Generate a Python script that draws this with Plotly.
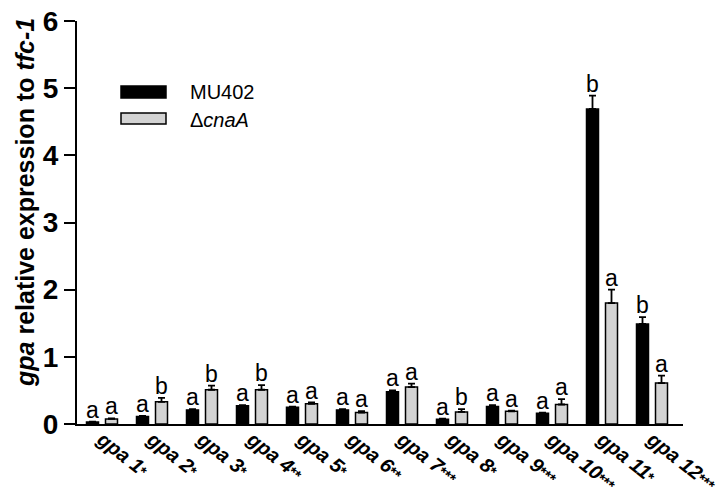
import plotly.graph_objects as go

genes = ["gpa1", "gpa2", "gpa3", "gpa4", "gpa5", "gpa6", "gpa7", "gpa8", "gpa9", "gpa10", "gpa11", "gpa12"]
stars = ["*", "*", "*", "**", "*", "**", "***", "*", "***", "***", "*", "***"]
mu402 = [0.03, 0.11, 0.21, 0.27, 0.25, 0.21, 0.48, 0.07, 0.26, 0.16, 4.69, 1.49]
mu402_err = [0.005, 0.01, 0.01, 0.01, 0.01, 0.01, 0.02, 0.01, 0.02, 0.01, 0.2, 0.1]
cna = [0.075, 0.33, 0.51, 0.51, 0.30, 0.17, 0.55, 0.18, 0.19, 0.29, 1.80, 0.61]
cna_err = [0.01, 0.06, 0.06, 0.07, 0.02, 0.02, 0.05, 0.04, 0.01, 0.08, 0.2, 0.11]
mu402_letters = ["a", "a", "a", "a", "a", "a", "a", "a", "a", "a", "b", "b"]
cna_letters = ["a", "b", "b", "b", "a", "a", "a", "b", "a", "a", "a", "a"]

FONT = "Liberation Sans, Arial, sans-serif"
x = list(range(len(genes)))
W = 0.24
OFF_B = -0.31
OFF_G = 0.07

# page body adds an 8px margin; figure sized so that the whole page is 724x498
PAD = 8
L, R, T, B = 77 - PAD, 41, 21 - PAD, 74
PW = 724 - PAD - L - R
PH = 498 - PAD - T - B


def px(xpix):
    return (xpix - PAD - L) / PW


def py(ypix):
    return ((498 - B) - ypix) / PH


fig = go.Figure()
fig.add_trace(go.Bar(
    x=x, y=mu402, name="MU402", width=W, offset=OFF_B,
    marker=dict(color="black", line=dict(color="black", width=1.5)),
    error_y=dict(type="data", array=mu402_err, arrayminus=[0]*len(genes), symmetric=False,
                 color="black", thickness=1.8, width=3.5),
    showlegend=False,
))
fig.add_trace(go.Bar(
    x=x, y=cna, name="ΔcnaA", width=W, offset=OFF_G,
    marker=dict(color="#d3d3d3", line=dict(color="black", width=1.5)),
    error_y=dict(type="data", array=cna_err, arrayminus=[0]*len(genes), symmetric=False,
                 color="black", thickness=1.8, width=3.5),
    showlegend=False,
))

ann = []
for i in x:
    ann.append(dict(x=i + OFF_B + W / 2, y=mu402[i] + mu402_err[i], text=mu402_letters[i],
                    xref="x", yref="y", showarrow=False, yanchor="bottom", yshift=-3,
                    font=dict(family=FONT, size=23, color="black")))
    ann.append(dict(x=i + OFF_G + W / 2, y=cna[i] + cna_err[i], text=cna_letters[i],
                    xref="x", yref="y", showarrow=False, yanchor="bottom", yshift=-3,
                    font=dict(family=FONT, size=23, color="black")))

# y-axis title
ann.append(dict(x=px(25), y=py(203), xref="paper", yref="paper", showarrow=False,
                xanchor="center", yanchor="middle",
                text="<i>gpa</i> relative expression to <i>tfc-1</i>", textangle=-90,
                font=dict(family=FONT, size=25, color="black", weight="bold")))

# legend (manual)
shapes = [
    dict(type="rect", xref="paper", yref="paper", x0=px(121), x1=px(166),
         y0=py(98), y1=py(86), fillcolor="black", line=dict(color="black", width=1.5)),
    dict(type="rect", xref="paper", yref="paper", x0=px(121), x1=px(166),
         y0=py(124), y1=py(113), fillcolor="#d3d3d3", line=dict(color="black", width=1.5)),
]
ann.append(dict(x=px(188), y=py(92), xref="paper", yref="paper", showarrow=False,
                xanchor="left", yanchor="middle", text="MU402",
                font=dict(family=FONT, size=20, color="black")))
ann.append(dict(x=px(188), y=py(120), xref="paper", yref="paper", showarrow=False,
                xanchor="left", yanchor="middle", text="Δ<i>cnaA</i>",
                font=dict(family=FONT, size=20, color="black")))

ticktext = [f"<i>gpa {g[3:]}</i><span style='font-size:15px'>{s}</span>" for g, s in zip(genes, stars)]

fig.update_layout(
    width=724 - PAD, height=498 - PAD,
    margin=dict(l=L, r=R, t=T, b=B),
    plot_bgcolor="white", paper_bgcolor="white",
    barmode="overlay",
    annotations=ann, shapes=shapes,
    xaxis=dict(range=[-0.5, 11.62], tickmode="array", tickvals=x, ticktext=ticktext,
               tickangle=38, showline=True, linecolor="black", linewidth=2,
               ticks="", showgrid=False, zeroline=False, automargin=False,
               ticklabeloverflow="allow", ticklabelstandoff=-6,
               tickfont=dict(family=FONT, size=20, color="black", weight="bold")),
    yaxis=dict(range=[0, 6], tickvals=[0, 1, 2, 3, 4, 5, 6], showline=True, linecolor="black",
               linewidth=2, ticks="outside", ticklen=11, tickwidth=2, tickcolor="black",
               showgrid=False, zeroline=False, automargin=False,
               ticklabeloverflow="allow",
               tickfont=dict(family=FONT, size=28, color="black", weight="bold")),
)

fig.write_html("out.html")
